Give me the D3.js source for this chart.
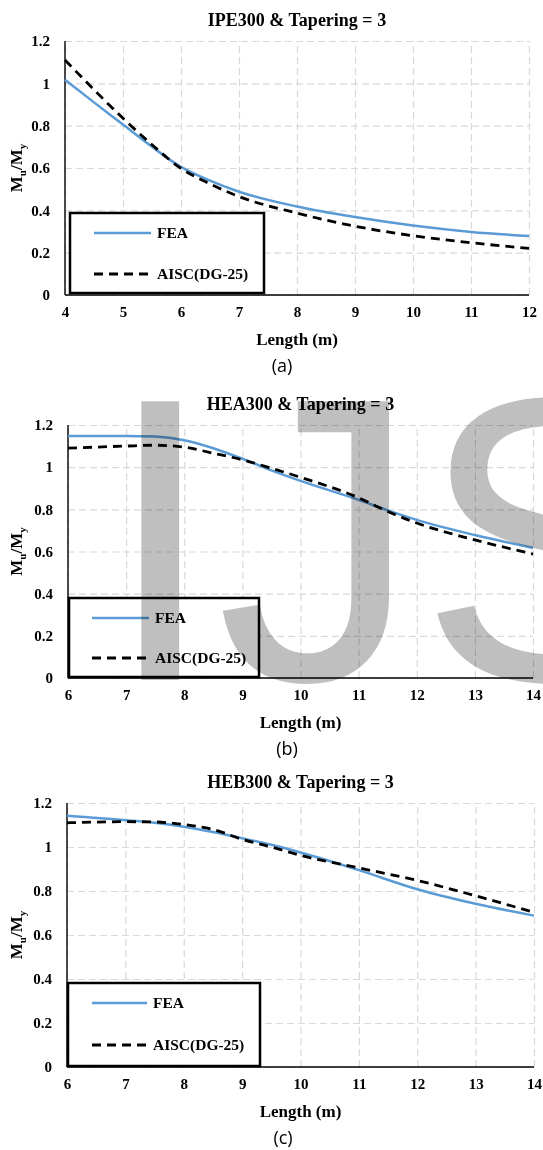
<!DOCTYPE html>
<html>
<head>
<meta charset="utf-8">
<script src="https://cdn.jsdelivr.net/npm/d3@7.9.0/dist/d3.min.js"></script>
<style>
  body { margin: 0; background: #fff; }
  svg { display: block; }
  .serif { font-family: "Liberation Serif", "Times New Roman", serif; font-weight: bold; }
  .grid line { stroke: #d9d9d9; stroke-width: 1.2; stroke-dasharray: 7,4; }
  .grid path { display: none; }
</style>
</head>
<body>
<svg id="chart" width="543" height="1150"></svg>
<script>
// data
const lenA = [4, 4.5, 5, 5.5, 6, 6.5, 7, 8, 9, 10, 11, 12];
const feaA = [1.017, 0.91, 0.805, 0.70, 0.605, 0.54, 0.488, 0.418, 0.368, 0.328, 0.298, 0.279];
const aiscA = [1.11, 0.97, 0.835, 0.71, 0.598, 0.525, 0.465, 0.387, 0.325, 0.28, 0.247, 0.22];

const lenB = [6, 7, 7.5, 8, 8.5, 9, 9.5, 10, 11, 11.5, 12, 13, 14];
const feaB = [1.148, 1.148, 1.145, 1.128, 1.09, 1.04, 0.985, 0.935, 0.845, 0.795, 0.75, 0.678, 0.617];
const aiscB = [1.09, 1.10, 1.104, 1.095, 1.066, 1.035, 0.995, 0.952, 0.855, 0.79, 0.735, 0.655, 0.588];

const lenC = [6, 7, 7.5, 8, 8.5, 9, 9.5, 10, 11, 12, 13, 14];
const feaC = [1.142, 1.122, 1.11, 1.092, 1.068, 1.04, 1.01, 0.975, 0.895, 0.808, 0.742, 0.688];
const aiscC = [1.11, 1.115, 1.114, 1.102, 1.08, 1.035, 1.0, 0.962, 0.905, 0.848, 0.778, 0.703];

const titles = ['IPE300 & Tapering = 3', 'HEA300 & Tapering = 3', 'HEB300 & Tapering = 3'];
const panelTags = ['(a)', '(b)', '(c)'];
const xTicksA = [4, 5, 6, 7, 8, 9, 10, 11, 12];
const xTicksBC = [6, 7, 8, 9, 10, 11, 12, 13, 14];
const yTicks = [0, 0.2, 0.4, 0.6, 0.8, 1, 1.2];
const seriesNames = ['FEA', 'AISC(DG-25)'];

const panels = [
  { len: lenA, fea: feaA, aisc: aiscA, xTicks: xTicksA, left: 65, right: 529, top: 41, bottom: 295,
    legend: { x0: 70, x1: 264, y0: 213, y1: 293, l0: 94, l1: 151, yF: 233, yA: 274 }, tagX: 282 },
  { len: lenB, fea: feaB, aisc: aiscB, xTicks: xTicksBC, left: 68, right: 533, top: 425, bottom: 678,
    legend: { x0: 69, x1: 259, y0: 598, y1: 677, l0: 92, l1: 149, yF: 618, yA: 658 }, tagX: 287 },
  { len: lenC, fea: feaC, aisc: aiscC, xTicks: xTicksBC, left: 67, right: 534, top: 803, bottom: 1067,
    legend: { x0: 68, x1: 260, y0: 983, y1: 1066, l0: 92, l1: 147, yF: 1003, yA: 1045 }, tagX: 283 }
];

const svg = d3.select('#chart');

panels.forEach((p, i) => {
  const g = svg.append('g');
  const x = d3.scaleLinear().domain(d3.extent(p.xTicks)).range([p.left, p.right]);
  const y = d3.scaleLinear().domain([0, 1.2]).range([p.bottom, p.top]);
  const midX = (p.left + p.right) / 2;

  // dashed grid
  g.append('g').attr('class', 'grid')
    .attr('transform', `translate(0,${p.bottom})`)
    .call(d3.axisBottom(x).tickValues(p.xTicks).tickSize(-(p.bottom - p.top)).tickFormat(''));
  g.append('g').attr('class', 'grid')
    .attr('transform', `translate(${p.left},0)`)
    .call(d3.axisLeft(y).tickValues(yTicks).tickSize(-(p.right - p.left)).tickFormat(''));

  // axis lines
  g.append('line').attr('x1', p.left).attr('x2', p.left).attr('y1', p.top).attr('y2', p.bottom)
    .attr('stroke', '#000').attr('stroke-width', 1.4);
  g.append('line').attr('x1', p.left).attr('x2', p.right).attr('y1', p.bottom).attr('y2', p.bottom)
    .attr('stroke', '#000').attr('stroke-width', 1.4);

  // tick labels
  const xAx = g.append('g').attr('transform', `translate(0,${p.bottom})`)
    .call(d3.axisBottom(x).tickValues(p.xTicks).tickSize(0).tickPadding(11).tickFormat(d3.format('d')));
  const yAx = g.append('g').attr('transform', `translate(${p.left},0)`)
    .call(d3.axisLeft(y).tickValues(yTicks).tickSize(0).tickPadding(15).tickFormat(d3.format('')));
  [xAx, yAx].forEach(a => {
    a.select('.domain').remove();
    a.selectAll('text').attr('class', 'serif').attr('font-size', 15).attr('fill', '#000');
  });

  // curves
  const line = d3.line().x(d => x(d[0])).y(d => y(d[1])).curve(d3.curveMonotoneX);
  g.append('path').datum(d3.zip(p.len, p.fea)).attr('d', line)
    .attr('fill', 'none').attr('stroke', '#5b9bd5').attr('stroke-width', 2.5);
  g.append('path').datum(d3.zip(p.len, p.aisc)).attr('d', line)
    .attr('fill', 'none').attr('stroke', '#000').attr('stroke-width', 2.8).attr('stroke-dasharray', '9,6');

  // legend
  const L = p.legend;
  g.append('rect').attr('x', L.x0).attr('y', L.y0).attr('width', L.x1 - L.x0).attr('height', L.y1 - L.y0)
    .attr('fill', '#fff').attr('stroke', '#000').attr('stroke-width', 2.5);
  g.append('line').attr('x1', L.l0).attr('x2', L.l1).attr('y1', L.yF).attr('y2', L.yF)
    .attr('stroke', '#5b9bd5').attr('stroke-width', 2.5);
  g.append('line').attr('x1', L.l0).attr('x2', L.l1).attr('y1', L.yA).attr('y2', L.yA)
    .attr('stroke', '#000').attr('stroke-width', 2.8).attr('stroke-dasharray', '9,6');
  [L.yF, L.yA].forEach((yy, k) => {
    g.append('text').attr('class', 'serif').attr('x', L.l1 + 6).attr('y', yy + 5)
      .attr('font-size', 15.5).text(seriesNames[k]);
  });

  // titles
  g.append('text').attr('class', 'serif').attr('x', midX).attr('y', p.top - 15)
    .attr('text-anchor', 'middle').attr('font-size', 18).text(titles[i]);
  g.append('text').attr('class', 'serif').attr('x', midX).attr('y', p.bottom + 50)
    .attr('text-anchor', 'middle').attr('font-size', 17).text('Length (m)');
  const yt = g.append('text').attr('class', 'serif').attr('font-size', 17).attr('text-anchor', 'middle')
    .attr('transform', `translate(22,${(p.top + p.bottom) / 2}) rotate(-90)`);
  yt.append('tspan').text('M');
  yt.append('tspan').attr('font-size', 11).attr('dy', 4).text('u');
  yt.append('tspan').attr('dy', -4).text('/M');
  yt.append('tspan').attr('font-size', 11).attr('dy', 4).text('y');

  g.append('text').attr('x', p.tagX).attr('y', p.bottom + 77).attr('text-anchor', 'middle')
    .attr('font-family', '"Open Sans", "Liberation Sans", sans-serif').attr('font-size', 18)
    .text(panelTags[i]);
});

// grey watermark over the middle panel
svg.append('text').attr('x', 104).attr('y', 680)
  .attr('font-family', '"Liberation Sans", Arial, sans-serif').attr('font-size', 405)
  .attr('fill', '#bfbfbf').style('mix-blend-mode', 'multiply')
  .text('IJS');
</script>
</body>
</html>
